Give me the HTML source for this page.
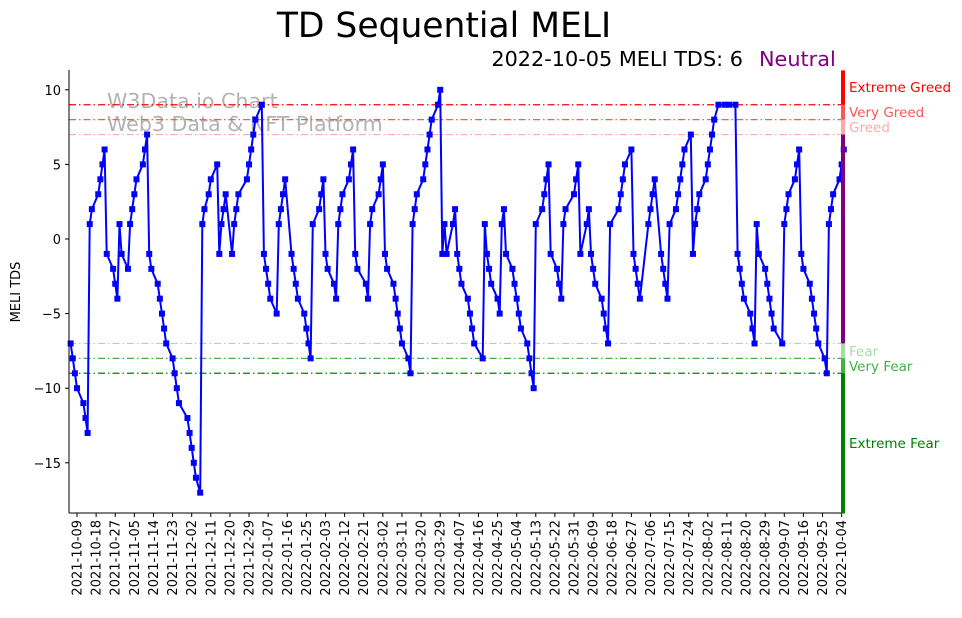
<!DOCTYPE html>
<html><head><meta charset="utf-8">
<style>
body{margin:0;background:#fff;}
svg text{font-family:"DejaVu Sans","Liberation Sans",sans-serif;}
</style></head>
<body>
<svg id="chart" width="962" height="613" viewBox="0 0 962 613" xmlns="http://www.w3.org/2000/svg">
<rect width="962" height="613" fill="#fff"/>
<text x="444" y="37" font-size="34.5" text-anchor="middle" fill="#000">TD Sequential MELI</text>
<text x="743" y="66" font-size="20.8" text-anchor="end" fill="#000">2022-10-05 MELI TDS: 6</text>
<text x="759" y="66" font-size="20.8" fill="#800080">Neutral</text>
<text x="107" y="108" font-size="20.6" fill="#aaa" fill-opacity="0.9">W3Data.io Chart</text>
<text x="107" y="131" font-size="20.6" fill="#aaa" fill-opacity="0.9">Web3 Data &amp; NFT Platform</text>
<text transform="translate(20,292) rotate(-90)" font-size="13" text-anchor="middle" fill="#000">MELI TDS</text>
<g id="grid"></g>
<g id="series"></g>
<g id="axes"></g>
<g id="zones"></g>
</svg>
<script>
const days = [-3,-2,-1,0,3,4,5,6,7,10,11,12,13,14,17,18,19,20,21,24,25,26,27,28,31,32,33,34,35,38,39,40,41,42,45,46,47,48,52,53,54,55,56,58,
59,60,62,63,66,67,68,69,70,73,74,75,76,80,81,82,83,84,87,88,89,90,91,94,95,96,97,98,101,102,103,104,107,108,109,110,111,114,115,116,117,118,121,122,123,124,125,128,129,130,131,132,136,137,138,139,142,143,144,145,146,149,150,151,152,153,156,157,158,159,160,163,164,165,166,167,170,171,172,173,174,177,178,179,180,181,184,185,186,187,191,192,193,194,195,198,199,200,201,202,205,206,207,208,209,212,213,214,215,216,219,220,221,222,223,226,227,228,229,230,234,235,236,237,240,241,242,243,244,247,248,249,250,251,255,256,257,258,261,262,263,264,265,269,270,271,272,275,276,277,278,279,282,283,284,285,286,289,290,291,292,293,296,297,298,299,300,302,305,307,310,311,312,313,314,317,318,319,320,321,324,325,326,327,328,332,333,334,335,338,339,340,341,342,345,346,347,348,349,352,353,354,355,356,359,360,361];
const tds = [-7,-8,-9,-10,-11,-12,-13,1,2,3,4,5,6,-1,-2,-3,-4,1,-1,-2,1,2,3,4,5,6,7,-1,-2,-3,-4,-5,-6,-7,-8,-9,-10,-11,-12,-13,-14,-15,-16,-17,
1,2,3,4,5,-1,1,2,3,-1,1,2,3,4,5,6,7,8,9,-1,-2,-3,-4,-5,1,2,3,4,-1,-2,-3,-4,-5,-6,-7,-8,1,2,3,4,-1,-2,-3,-4,1,2,3,4,5,6,-1,-2,-3,-4,1,2,3,4,5,-1,-2,-3,-4,-5,-6,-7,-8,-9,1,2,3,4,5,6,7,8,9,10,-1,1,-1,1,2,-1,-2,-3,-4,-5,-6,-7,-8,1,-1,-2,-3,-4,-5,1,2,-1,-2,-3,-4,-5,-6,-7,-8,-9,-10,1,2,3,4,5,-1,-2,-3,-4,1,2,3,4,5,-1,1,2,-1,-2,-3,-4,-5,-6,-7,1,2,3,4,5,6,-1,-2,-3,-4,1,2,3,4,-1,-2,-3,-4,1,2,3,4,5,6,7,-1,1,2,3,4,5,6,7,8,9,9,9,9,-1,-2,-3,-4,-5,-6,-7,1,-1,-2,-3,-4,-5,-6,-7,1,2,3,4,5,6,-1,-2,-3,-4,-5,-6,-7,-8,-9,1,2,3,4,5,6];
const yTicks = [10,5,0,-5,-10,-15];
const zoneLevels = [9,8,7,-7,-8,-9];
const zoneNames = ["Extreme Greed","Very Greed","Greed","Fear","Very Fear","Extreme Fear"];
const zoneColors = ["#ff0000","#ff5555","#ffaaaa","#aad9aa","#44b044","#008000"];
const tickStartDate = "2021-10-09";
const tickStepDays = 9;
const tickCount = 41;

const NS = "http://www.w3.org/2000/svg";
const L = 69, R = 845, T = 70, B = 513;
const x = d => 77 + d * 2.124;
const y = v => 239 - v * 14.92;
function mk(tag, attrs, parent){const e=document.createElementNS(NS,tag);for(const k in attrs)e.setAttribute(k,attrs[k]);parent.appendChild(e);return e;}
const grid=document.getElementById('grid'), series=document.getElementById('series'), axes=document.getElementById('axes'), zones=document.getElementById('zones');

zoneLevels.forEach((lv,i)=>{
  const ln = mk('line',{x1:L,x2:R,y1:y(lv),y2:y(lv),stroke:zoneColors[i],'stroke-width':1.2,'stroke-dasharray':'7,3,1.5,3'},grid);
  
  
});

let pts = days.map((d,i)=>x(d).toFixed(1)+','+y(tds[i]).toFixed(1)).join(' ');
const pl = mk('polyline',{points:pts,fill:'none',stroke:'#0000ff','stroke-width':2,'stroke-linejoin':'round'},series);


days.forEach((d,i)=>{
  const r = mk('rect',{x:x(d)-3,y:y(tds[i])-3,width:6,height:6,fill:'#0000ff'},series);
  
  
});

const yl = mk('line',{x1:L,x2:L,y1:T,y2:B,stroke:'#000','stroke-width':1},axes);


const xl = mk('line',{x1:L,x2:R,y1:B,y2:B,stroke:'#000','stroke-width':1},axes);


yTicks.forEach(v=>{
  mk('line',{x1:L-4,x2:L,y1:y(v),y2:y(v),stroke:'#000'},axes);
  const t = mk('text',{x:L-8,y:y(v)+5,'font-size':13,'text-anchor':'end',fill:'#000'},axes);
  t.textContent = v<0 ? '\u2212'+(-v) : String(v);
  
  
});
const base = new Date(tickStartDate+'T00:00:00Z');
for(let k=0;k<tickCount;k++){
  const d = k*tickStepDays;
  const dt = new Date(base.getTime()+d*86400000);
  const s = dt.toISOString().slice(0,10);
  const xx = x(d);
  mk('line',{x1:xx,x2:xx,y1:B,y2:B+4,stroke:'#000'},axes);
  const t = mk('text',{transform:`translate(${xx+4.5},${B+7}) rotate(-90)`,'font-size':13,'text-anchor':'end',fill:'#000'},axes);
  t.textContent = s;
  
  
}

const bands = [[11.3,9,zoneColors[0]],[9,8,zoneColors[1]],[8,7,zoneColors[2]],[7,-7,'#800080'],[-7,-8,zoneColors[3]],[-8,-9,zoneColors[4]],[-9,-18.4,zoneColors[5]]];
bands.forEach(b=>{
  const r = mk('rect',{x:841,y:y(b[0]),width:4,height:y(b[1])-y(b[0]),fill:b[2]},zones);
  
  
});
const labelY = [92,117,132,356,371,448];
zoneNames.forEach((n,i)=>{
  const t = mk('text',{x:849,y:labelY[i],'font-size':13.5,fill:zoneColors[i]},zones);
  t.textContent = n;
  
  
});
</script>
</body></html>
